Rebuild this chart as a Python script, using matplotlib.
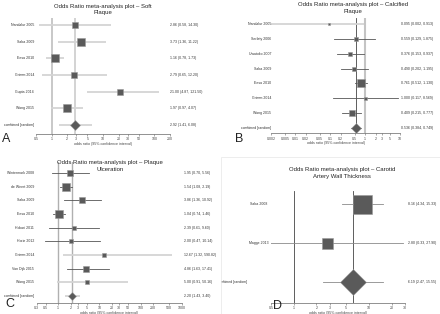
import matplotlib
matplotlib.use('Agg')
import matplotlib.pyplot as plt
from matplotlib.transforms import blended_transform_factory
from matplotlib.patches import Rectangle

plt.rcParams['font.family'] = ['Liberation Sans', 'DejaVu Sans']

W, H = 440, 314

# --- A: soft plaque
soft_studies = ['Nandalur 2005', 'Saba 2009', 'Eesa 2010', 'Grimm 2014', 'Gupta 2014', 'Wang 2015', 'combined [random]']
soft_or = [2.86, 3.73, 1.16, 2.79, 21.00, 1.97, 2.92]
soft_lo = [0.58, 1.36, 0.78, 0.65, 4.87, 0.97, 1.41]
soft_hi = [14.30, 11.22, 1.73, 12.20, 121.50, 4.07, 6.08]
soft_ticks = [0.5, 1, 2, 3, 5, 10, 20, 30, 50, 100, 200]

# --- B: calcified plaque
calc_studies = ['Nandalur 2005', 'Serfaty 2006', 'Uwatoko 2007', 'Saba 2009', 'Eesa 2010', 'Grimm 2014', 'Wang 2015', 'combined [random]']
calc_or = [0.095, 0.559, 0.376, 0.490, 0.761, 1.000, 0.409, 0.536]
calc_lo = [0.002, 0.129, 0.153, 0.202, 0.512, 0.117, 0.215, 0.384]
calc_hi = [0.913, 1.875, 0.937, 1.195, 1.130, 8.569, 0.777, 0.749]
calc_ticks = [0.002, 0.005, 0.01, 0.02, 0.05, 0.1, 0.2, 0.5, 1, 2, 3, 5, 10]

# --- C: plaque ulceration
ulc_studies = ['Wintermark 2008', 'de Weert 2009', 'Saba 2009', 'Eesa 2010', 'Hokari 2011', 'Horie 2012', 'Grimm 2014', 'Van Dijk 2015', 'Wang 2015', 'combined [random]']
ulc_or = [1.95, 1.54, 3.86, 1.04, 2.39, 2.00, 12.67, 4.86, 5.00, 2.20]
ulc_lo = [0.70, 1.08, 1.36, 0.74, 0.61, 0.47, 1.32, 1.63, 0.91, 1.43]
ulc_hi = [5.56, 2.19, 10.92, 1.46, 9.60, 10.14, 590.82, 17.41, 50.16, 3.40]
ulc_ticks = [0.3, 0.5, 1, 2, 3, 5, 10, 20, 30, 50, 100, 200, 500, 1000]

# --- D: carotid artery wall thickness
cawt_studies = ['Saba 2008', 'Magge 2013', 'combined [random]']
cawt_or = [8.16, 2.80, 6.19]
cawt_lo = [4.34, 0.33, 2.47]
cawt_hi = [15.33, 27.90, 15.55]
cawt_ticks = [0.5, 1, 2, 3, 5, 10, 20, 30]

fig = plt.figure(figsize=(W / 100, H / 100), dpi=100)
fig.patch.set_facecolor('white')

panels = [
    dict(studies=soft_studies, est=soft_or, lo=soft_lo, hi=soft_hi, ticks=soft_ticks, fmt='%.2f',
         title='Odds Ratio meta-analysis plot \u2013 Soft\nPlaque', tx=103, ty=9.5,
         x0=36, x1=170, ytop=18, yaxis=134, row0=25, step=16.67,
         labx=[34] * 7, textx=170, letter='A', lx=2, ly=142,
         box=[6.3, 7.3, 8.3, 6.7, 6.7, 7.7], dia=9.3,
         light=[1, 1, 1, 1, 1, 1, 1], v1=('#c4c4c4', 1.3), vc=('#d0d0d0', 1.3)),
    dict(studies=calc_studies, est=calc_or, lo=calc_lo, hi=calc_hi, ticks=calc_ticks, fmt='%.3f',
         title='Odds Ratio meta-analysis plot \u2013 Calcified\nPlaque', tx=353, ty=8,
         x0=271, x1=400, ytop=18, yaxis=133.3, row0=24, step=14.86,
         labx=[271] * 8, textx=401, letter='B', lx=235, ly=142,
         box=[2.3, 3.3, 5, 5, 8.3, 3, 6], dia=9,
         light=[1, 0, 0, 0, 0, 0, 0, 0], v1=('#c4c4c4', 1.5), vc=('#444444', 0.6)),
    dict(studies=ulc_studies, est=ulc_or, lo=ulc_lo, hi=ulc_hi, ticks=ulc_ticks, fmt='%.2f',
         title='Odds Ratio meta-analysis plot \u2013 Plaque\nUlceration', tx=110, ty=166,
         x0=36.7, x1=181.7, ytop=162, yaxis=302.7, row0=173, step=13.67,
         labx=[34] * 10, textx=184, letter='C', lx=5, ly=307,
         box=[5.7, 7.3, 5.7, 7.7, 5, 5, 3.3, 5.7, 4.3], dia=8.3,
         light=[0, 0, 0, 0, 0, 0, 1, 0, 1, 1], v1=('#b0b0b0', 1.0), vc=('#b0b0b0', 1.0)),
    dict(studies=cawt_studies, est=cawt_or, lo=cawt_lo, hi=cawt_hi, ticks=cawt_ticks, fmt='%.2f',
         title='Odds Ratio meta-analysis plot \u2013 Carotid\nArtery Wall Thickness', tx=342, ty=173,
         x0=271, x1=405, ytop=191, yaxis=302.7, row0=204.3, step=39,
         labx=[267, 269, 247], textx=408, letter='D', lx=273, ly=309,
         box=[19, 11], dia=26,
         light=[0, 0, 0], v1=('#444444', 0.6), vc=('#444444', 0.6)),
]

# faint frame around panel D region
fig.patches.append(Rectangle((220.5 / W, 0.5 / H), 219 / W, 156.5 / H, transform=fig.transFigure,
                             fill=False, edgecolor='#e6e6e6', linewidth=0.5))
clipD = Rectangle((220.5 / W, 0), 219.5 / W, 157 / H, transform=fig.transFigure)

for i, p in enumerate(panels):
    n = len(p['studies'])
    last = p['row0'] + (n - 1) * p['step']
    ax = fig.add_axes([p['x0'] / W, 1 - p['yaxis'] / H, (p['x1'] - p['x0']) / W,
                       (p['yaxis'] - p['ytop']) / H])
    ax.set_facecolor('none')
    ax.set_xscale('log')
    ax.set_xlim(p['ticks'][0], p['ticks'][-1])
    ax.set_ylim((last - p['yaxis']) / p['step'], (last - p['ytop']) / p['step'])
    for s in ['left', 'right', 'top']:
        ax.spines[s].set_visible(False)
    ax.spines['bottom'].set_color('#666666')
    ax.spines['bottom'].set_linewidth(0.5)
    ax.set_yticks([])
    ax.set_xticks(p['ticks'])
    ax.set_xticklabels(['%g' % t for t in p['ticks']])
    ax.minorticks_off()
    ax.tick_params(axis='x', labelsize=2.6, length=1.5, width=0.4, color='#666666',
                   labelcolor='#444444', pad=1)
    ax.set_xlabel('odds ratio (95% confidence interval)', fontsize=2.6, color='#444444', labelpad=0.5)

    ax.axvline(1, color=p['v1'][0], lw=p['v1'][1], zorder=1)
    ax.axvline(p['est'][-1], color=p['vc'][0], lw=p['vc'][1], zorder=1)

    trans = blended_transform_factory(fig.transFigure, ax.transData)
    for k in range(n):
        y = n - 1 - k
        if p['light'][k]:
            ax.plot([p['lo'][k], p['hi'][k]], [y, y], color='#d4d4d4', lw=1.3, zorder=2,
                    solid_capstyle='butt')
        else:
            ax.plot([p['lo'][k], p['hi'][k]], [y, y], color='#555555' if i < 3 else '#8a8a8a',
                    lw=0.6, zorder=2)
        if k < n - 1:
            ax.plot(p['est'][k], y, marker='s', markersize=p['box'][k] * 0.72,
                    markerfacecolor='#5a5a5a', markeredgecolor='#9a9a9a', markeredgewidth=0.4,
                    zorder=3)
        else:
            ax.plot(p['est'][k], y, marker='D', markersize=p['dia'] * 0.72 / 1.414,
                    markerfacecolor='#5a5a5a', markeredgecolor='#9a9a9a', markeredgewidth=0.4,
                    zorder=3)
        t = ax.text(p['labx'][k] / W, y, p['studies'][k], transform=trans, ha='right', va='center',
                    fontsize=2.5, color='#333333')
        if i == 3:
            t.set_clip_on(True)
            t.set_clip_path(clipD)
        f = p['fmt']
        ax.text(p['textx'] / W, y, (f + ' (' + f + ', ' + f + ')') % (p['est'][k], p['lo'][k], p['hi'][k]),
                transform=trans, ha='left', va='center', fontsize=2.5, color='#333333')

    fig.text(p['tx'] / W, 1 - p['ty'] / H, p['title'], ha='center', va='center', fontsize=4.3,
             linespacing=1.35, color='#222222')
    fig.text(p['lx'] / W, 1 - p['ly'] / H, p['letter'], fontsize=9, va='baseline', color='#222222')

fig.savefig('out.png', dpi=100)
